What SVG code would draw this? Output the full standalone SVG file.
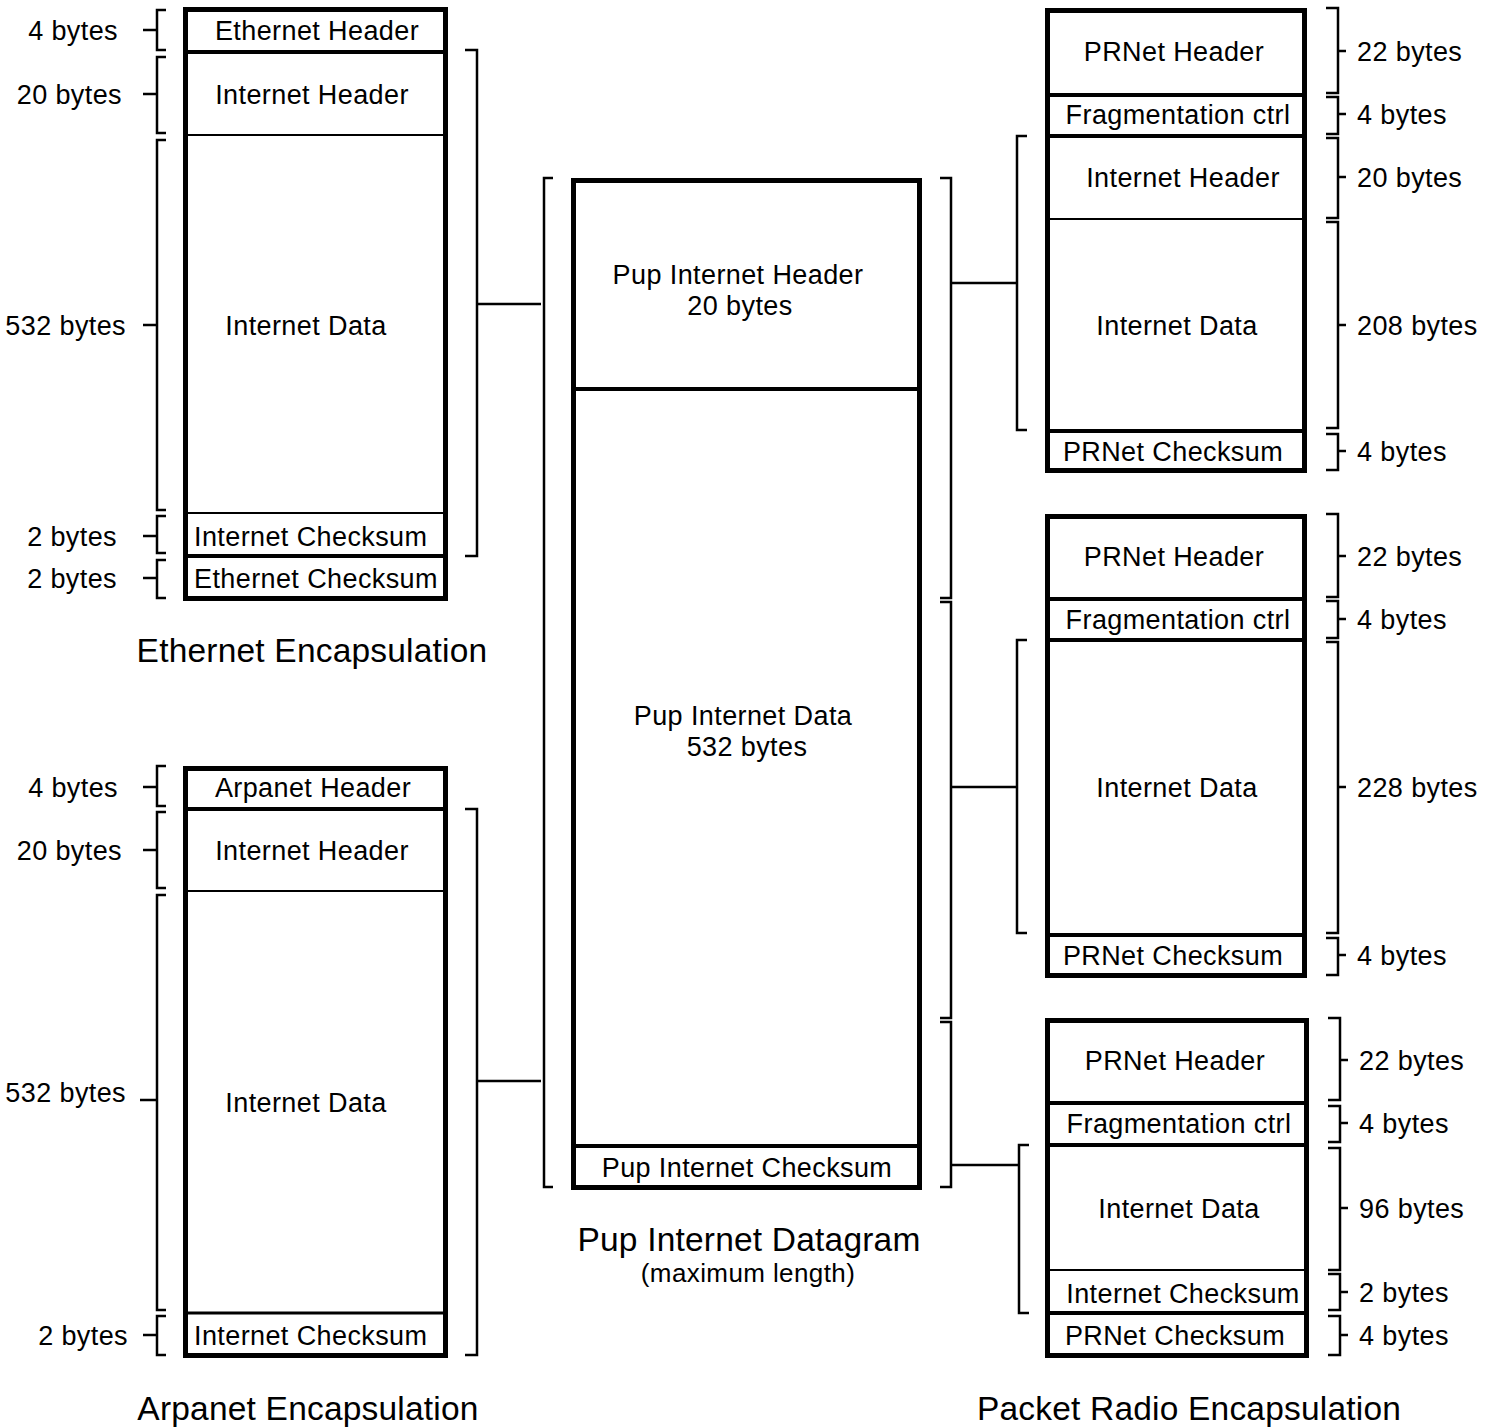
<svg xmlns="http://www.w3.org/2000/svg" width="1496" height="1428" viewBox="0 0 1496 1428">
<style>
.box{fill:#fff;stroke:#000;stroke-width:5}
.dk{stroke:#000;stroke-width:4}
.dn{stroke:#000;stroke-width:2}
.br{fill:none;stroke:#000;stroke-width:2.5}
.cn{fill:none;stroke:#000;stroke-width:2.5}
text{font-family:"Liberation Sans",Arial,Helvetica,sans-serif;fill:#000;font-size:27px;letter-spacing:0.4px}
.m{text-anchor:middle}
.e{text-anchor:end}
.title{font-size:33.5px;letter-spacing:0.2px;text-anchor:middle}
.sub{font-size:26px;text-anchor:middle}
</style>
<rect width="1496" height="1428" fill="#fff"/>

<g id="connectors">
<path class="cn" d="M465,50 H477 V556 H465 M477,304 H541"/>
<path class="cn" d="M465,809 H477 V1355 H465 M477,1081 H541"/>
<path class="cn" d="M553,178 H544 V1187 H553"/>
<path class="cn" d="M940,178 H951 V598 H940 M940,602 H951 V1018 H940 M940,1022 H951 V1187 H940"/>
<path class="cn" d="M951,283 H1017 M1027,136 H1017 V430 H1027"/>
<path class="cn" d="M951,787 H1017 M1027,640 H1017 V933 H1027"/>
<path class="cn" d="M951,1165 H1019 M1029,1145 H1019 V1313 H1029"/>
</g>

<g id="ethernet">
<rect class="box" x="185.5" y="9.5" width="260" height="589"/>
<line class="dk" x1="185" y1="52" x2="446" y2="52"/>
<line class="dn" x1="185" y1="135" x2="446" y2="135"/>
<line class="dn" x1="185" y1="513" x2="446" y2="513"/>
<line class="dk" x1="185" y1="556" x2="446" y2="556"/>
<text class="m" x="317" y="40">Ethernet Header</text>
<text class="m" x="312" y="104">Internet Header</text>
<text class="m" x="306" y="335">Internet Data</text>
<text x="194" y="546">Internet Checksum</text>
<text x="194" y="588">Ethernet Checksum</text>
<path class="br" d="M166,10 H157 V50 H166 M157,30 H143"/>
<path class="br" d="M166,57 H157 V133 H166 M157,94 H143"/>
<path class="br" d="M166,140 H157 V510 H166 M157,325 H143"/>
<path class="br" d="M166,516 H157 V553 H166 M157,536 H143"/>
<path class="br" d="M166,560 H157 V598 H166 M157,578 H143"/>
<text class="e" x="118" y="40">4 bytes</text>
<text class="e" x="122" y="104">20 bytes</text>
<text class="e" x="126" y="335">532 bytes</text>
<text class="e" x="117" y="546">2 bytes</text>
<text class="e" x="117" y="588">2 bytes</text>
<text class="title" x="312" y="662">Ethernet Encapsulation</text>
</g>

<g id="arpanet">
<rect class="box" x="185.5" y="768.5" width="260" height="587"/>
<line class="dk" x1="185" y1="809" x2="446" y2="809"/>
<line class="dn" x1="185" y1="891" x2="446" y2="891"/>
<line class="dk" x1="185" y1="1313" x2="446" y2="1313" style="stroke-width:3"/>
<text class="m" x="313" y="797">Arpanet Header</text>
<text class="m" x="312" y="860">Internet Header</text>
<text class="m" x="306" y="1112">Internet Data</text>
<text x="194" y="1345">Internet Checksum</text>
<path class="br" d="M166,766 H157 V806 H166 M157,787 H143"/>
<path class="br" d="M166,812 H157 V888 H166 M157,850 H143"/>
<path class="br" d="M166,895 H157 V1310 H166 M157,1100 H140"/>
<path class="br" d="M166,1316 H157 V1355 H166 M157,1335 H143"/>
<text class="e" x="118" y="797">4 bytes</text>
<text class="e" x="122" y="860">20 bytes</text>
<text class="e" x="126" y="1102">532 bytes</text>
<text class="e" x="128" y="1345">2 bytes</text>
<text class="title" x="308" y="1420">Arpanet Encapsulation</text>
</g>

<g id="pup">
<rect class="box" x="573.5" y="180.5" width="346" height="1007"/>
<line class="dk" x1="573" y1="389" x2="920" y2="389"/>
<line class="dk" x1="573" y1="1146" x2="920" y2="1146"/>
<text class="m" x="738" y="284">Pup Internet Header</text>
<text class="m" x="740" y="315">20 bytes</text>
<text class="m" x="743" y="725">Pup Internet Data</text>
<text class="m" x="747" y="756">532 bytes</text>
<text class="m" x="747" y="1177">Pup Internet Checksum</text>
<text class="title" x="749" y="1251">Pup Internet Datagram</text>
<text class="sub" x="748" y="1282">(maximum length)</text>
</g>

<g id="prnet1">
<rect class="box" x="1047.5" y="10.5" width="257" height="460"/>
<line class="dk" x1="1047" y1="95" x2="1305" y2="95"/>
<line class="dk" x1="1047" y1="136" x2="1305" y2="136"/>
<line class="dn" x1="1047" y1="219" x2="1305" y2="219"/>
<line class="dk" x1="1047" y1="431" x2="1305" y2="431"/>
<text class="m" x="1174" y="61">PRNet Header</text>
<text class="m" x="1178" y="124">Fragmentation ctrl</text>
<text class="m" x="1183" y="187">Internet Header</text>
<text class="m" x="1177" y="335">Internet Data</text>
<text class="m" x="1173" y="461">PRNet Checksum</text>
<path class="br" d="M1326,8 H1338 V93 H1326 M1338,51 H1346"/>
<path class="br" d="M1326,97 H1338 V134 H1326 M1338,114 H1346"/>
<path class="br" d="M1326,138 H1338 V218 H1326 M1338,177 H1346"/>
<path class="br" d="M1326,222 H1338 V428 H1326 M1338,325 H1346"/>
<path class="br" d="M1326,434 H1338 V470 H1326 M1338,451 H1346"/>
<text x="1357" y="61">22 bytes</text>
<text x="1357" y="124">4 bytes</text>
<text x="1357" y="187">20 bytes</text>
<text x="1357" y="335">208 bytes</text>
<text x="1357" y="461">4 bytes</text>
</g>

<g id="prnet2">
<rect class="box" x="1047.5" y="516.5" width="257" height="459"/>
<line class="dk" x1="1047" y1="599" x2="1305" y2="599"/>
<line class="dk" x1="1047" y1="640" x2="1305" y2="640"/>
<line class="dk" x1="1047" y1="935" x2="1305" y2="935"/>
<text class="m" x="1174" y="566">PRNet Header</text>
<text class="m" x="1178" y="629">Fragmentation ctrl</text>
<text class="m" x="1177" y="797">Internet Data</text>
<text class="m" x="1173" y="965">PRNet Checksum</text>
<path class="br" d="M1326,514 H1338 V597 H1326 M1338,556 H1346"/>
<path class="br" d="M1326,601 H1338 V638 H1326 M1338,619 H1346"/>
<path class="br" d="M1326,642 H1338 V933 H1326 M1338,787 H1346"/>
<path class="br" d="M1326,938 H1338 V975 H1326 M1338,955 H1346"/>
<text x="1357" y="566">22 bytes</text>
<text x="1357" y="629">4 bytes</text>
<text x="1357" y="797">228 bytes</text>
<text x="1357" y="965">4 bytes</text>
</g>

<g id="prnet3">
<rect class="box" x="1047.5" y="1020.5" width="259" height="335"/>
<line class="dk" x1="1047" y1="1103" x2="1307" y2="1103"/>
<line class="dk" x1="1047" y1="1145" x2="1307" y2="1145"/>
<line class="dn" x1="1047" y1="1270" x2="1307" y2="1270"/>
<line class="dk" x1="1047" y1="1313" x2="1307" y2="1313"/>
<text class="m" x="1175" y="1070">PRNet Header</text>
<text class="m" x="1179" y="1133">Fragmentation ctrl</text>
<text class="m" x="1179" y="1218">Internet Data</text>
<text class="m" x="1183" y="1303">Internet Checksum</text>
<text class="m" x="1175" y="1345">PRNet Checksum</text>
<path class="br" d="M1328,1018 H1340 V1100 H1328 M1340,1060 H1348"/>
<path class="br" d="M1328,1106 H1340 V1142 H1328 M1340,1123 H1348"/>
<path class="br" d="M1328,1148 H1340 V1270 H1328 M1340,1208 H1348"/>
<path class="br" d="M1328,1274 H1340 V1310 H1328 M1340,1292 H1348"/>
<path class="br" d="M1328,1316 H1340 V1355 H1328 M1340,1335 H1348"/>
<text x="1359" y="1070">22 bytes</text>
<text x="1359" y="1133">4 bytes</text>
<text x="1359" y="1218">96 bytes</text>
<text x="1359" y="1302">2 bytes</text>
<text x="1359" y="1345">4 bytes</text>
<text class="title" x="1189" y="1420">Packet Radio Encapsulation</text>
</g>
</svg>
